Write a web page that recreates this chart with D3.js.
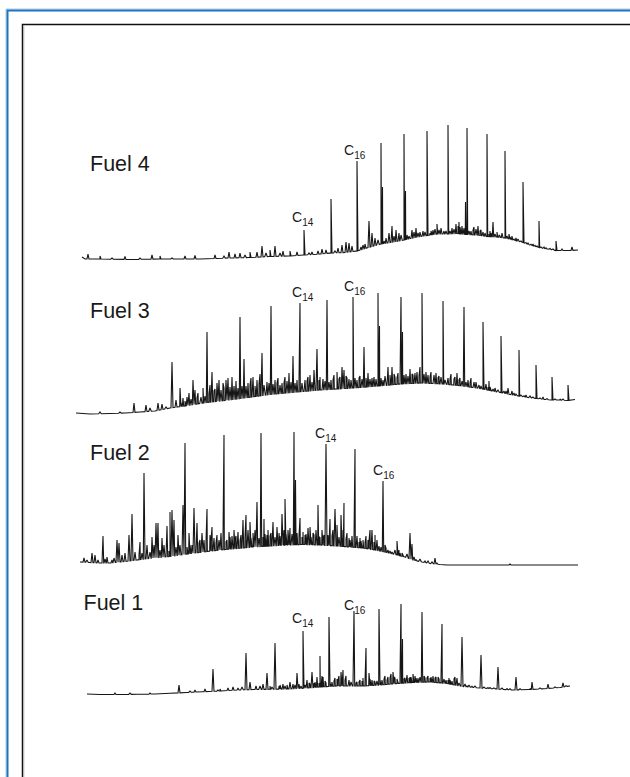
<!DOCTYPE html>
<html><head><meta charset="utf-8">
<script src="https://cdn.jsdelivr.net/npm/d3@7"></script>
<style>body{margin:0;background:#fff}svg{display:block}</style>
</head><body>
<svg id="chart" width="630" height="777"></svg>
<script>
// Retention time (min) and detector signal (arbitrary units)
const fuel4Baseline = [[5.2,5],[5.5,3],[7.0,3],[10.0,2.5],[13.0,3],[17.0,3],[20.0,4],[22.0,4.5],[24.0,5.5],[26.0,6],[27.4,7],[29.0,8],[30.1,9],[31.5,9.5],[32.7,11],[34.0,15],[35.1,18],[36.3,20],[37.4,22],[38.7,25],[39.7,26.5],[40.7,28],[41.8,28],[42.7,28.5],[43.7,27.5],[44.7,27],[45.7,25.5],[46.7,25],[47.5,24],[48.3,22],[49.3,19.5],[50.0,17],[50.9,14.5],[51.7,13],[52.6,11.5],[53.3,11.5],[54.0,11.5],[54.8,12]];
const fuel4Peaks = [[5.8,8],[7.0,6],[9.5,5.5],[12.2,7],[13.0,6],[15.5,6],[16.5,6.5],[18.5,7],[19.9,10],[20.5,8],[21.0,9],[22.0,10],[22.7,10],[23.2,16],[24.0,12],[24.5,16],[25.3,11],[26.0,11],[26.7,10],[27.4,32],[28.2,10],[28.8,11],[29.2,13],[29.6,12],[30.1,63],[30.8,14],[31.2,17],[31.6,20],[31.9,19],[32.2,16],[32.7,101],[33.1,15],[33.5,18],[33.9,41],[34.2,29],[34.5,24],[35.1,119],[35.25,75],[35.6,24],[35.9,29],[36.2,36],[36.6,32],[36.9,29],[37.4,128],[37.55,71],[37.9,26],[38.2,32],[38.6,34],[39.0,30],[39.3,31],[39.7,131],[40.0,29],[40.3,32],[40.7,38],[41.1,34],[41.4,31],[41.8,137],[42.2,34],[42.6,38],[42.9,40],[43.2,36],[43.55,60],[43.7,134],[44.1,31],[44.4,35],[44.8,36],[45.1,32],[45.7,128],[46.0,31],[46.3,40],[46.7,30],[47.2,29],[47.5,111],[47.9,28],[48.2,26],[48.6,24],[49.3,80],[49.8,19],[50.3,18],[50.9,41],[51.4,15],[52.6,21],[53.2,13],[54.2,15]];
const fuel4Minor = [[8.2,4],[11.0,4],[14.2,4],[19.4,6],[21.5,7],[23.6,9],[25.0,9],[27.9,9],[30.5,11],[33.3,17],[34.8,22],[35.4,21],[36.4,26],[37.1,27],[37.7,27],[38.4,30],[38.8,29],[39.5,30],[40.1,31],[40.5,33],[40.9,32],[41.6,31],[42.0,31],[42.4,33],[42.8,36],[43.0,35],[43.4,34],[43.9,31],[44.3,32],[44.6,33],[45.0,31],[45.3,30],[45.5,29],[45.9,28],[46.1,29],[46.5,28],[46.9,27],[47.0,26],[47.7,26],[48.0,25],[48.4,23],[48.8,23],[49.1,21],[49.6,19],[50.1,17],[50.5,16],[50.7,15],[51.1,14],[51.6,14],[52.0,13],[52.3,12]];
const fuel4Labels = [[14,27.4],[16,32.7]];

const fuel3Baseline = [[4.6,3],[6.0,2],[8.0,2.5],[9.5,3],[11.0,4],[12.5,5],[14.0,8],[15.5,10],[17.3,13],[19.0,15],[20.7,17],[22.5,19.5],[24.0,21.5],[25.6,23],[27.3,24.5],[29.0,26],[30.7,27],[32.3,28],[33.6,29],[34.8,30],[36.0,31],[37.0,32],[38.1,32.5],[39.2,33],[40.3,32.5],[41.3,32],[42.3,31],[43.3,30],[44.3,28.5],[45.3,27],[46.2,25],[47.1,23.5],[48.0,21.5],[48.9,20],[49.8,18.5],[50.6,17.5],[51.5,16.5],[52.2,16],[53.0,16],[53.8,15.5],[54.5,16.5]];
const fuel3Peaks = [[10.4,13],[11.6,11],[12.8,13],[13.2,12],[14.2,54],[14.6,16],[15.0,28],[15.3,18],[15.7,19],[15.9,23],[16.3,36],[16.5,26],[16.8,23],[17.3,28],[17.7,84],[18.0,31],[18.2,44],[18.7,33],[18.9,36],[19.3,33],[19.6,36],[19.8,38],[20.2,39],[20.6,35],[21.0,99],[21.4,57],[21.8,33],[22.1,38],[22.3,39],[22.7,36],[23.0,42],[23.2,63],[23.7,34],[24.1,110],[24.5,36],[24.8,38],[25.2,33],[25.5,39],[25.9,43],[26.3,60],[26.7,36],[27.0,113],[27.5,36],[27.8,39],[28.0,41],[28.4,46],[28.7,67],[29.0,39],[29.3,37],[29.7,116],[30.1,36],[30.4,41],[30.7,44],[31.2,49],[31.4,46],[31.7,38],[32.3,119],[32.7,36],[33.0,40],[33.4,69],[33.8,43],[34.2,38],[34.8,123],[34.95,90],[35.3,36],[35.8,49],[36.2,49],[36.5,39],[36.8,43],[37.1,119],[37.25,84],[37.6,42],[38.0,47],[38.3,41],[38.5,43],[39.0,49],[39.2,123],[39.6,44],[40.1,44],[40.6,43],[40.9,40],[41.3,115],[41.8,38],[42.1,42],[42.7,43],[43.0,38],[43.4,109],[43.8,36],[44.1,38],[44.6,34],[45.3,94],[45.6,32],[45.9,35],[46.5,28],[47.1,80],[47.8,28],[48.2,25],[48.9,66],[49.6,21],[50.6,51],[51.3,19],[52.2,39],[53.0,17],[53.8,31]];
const fuel3Minor = [[7.0,4],[9.0,4],[12.0,8],[13.6,9],[15.1,13],[15.5,15],[16.1,17],[16.7,18],[17.1,19],[17.5,20],[17.9,22],[18.4,25],[18.5,27],[19.1,26],[19.4,28],[20.0,29],[20.4,30],[20.8,28],[21.2,30],[21.6,30],[22.0,31],[22.5,30],[22.9,32],[23.4,31],[23.9,33],[24.3,32],[24.7,33],[25.0,31],[25.4,33],[25.7,35],[26.1,34],[26.5,33],[26.9,34],[27.2,33],[27.7,35],[28.2,34],[28.9,36],[29.5,35],[29.9,34],[30.3,36],[30.9,37],[31.0,39],[31.6,40],[31.9,37],[32.1,36],[32.5,38],[32.9,38],[33.2,37],[33.6,38],[34.0,37],[34.4,39],[34.6,37],[35.1,38],[35.5,40],[36.0,41],[36.4,42],[36.7,38],[37.4,41],[37.8,40],[38.2,42],[38.7,44],[38.9,40],[39.4,42],[39.8,41],[40.0,39],[40.4,41],[40.8,38],[41.1,39],[41.5,36],[42.0,37],[42.4,37],[42.5,39],[42.9,36],[43.2,35],[43.6,34],[44.0,33],[44.4,34],[44.9,31],[45.1,30],[45.8,29],[46.0,29],[46.3,27],[46.8,26],[47.4,25],[47.6,25],[48.4,23],[48.6,22],[49.1,21],[49.4,20],[50.0,20],[50.3,19],[51.0,18],[51.7,17],[52.5,17],[53.3,17]];
const fuel3Labels = [[14,27.0],[16,32.3]];

const fuel2Baseline = [[5.0,5],[6.0,4.5],[7.0,4],[8.0,4],[9.0,5],[10.7,7],[12.3,9],[14.0,10.5],[15.7,13],[17.3,15],[19.0,17],[20.7,18.5],[22.3,20],[24.0,21],[25.7,22],[27.3,22.5],[29.0,22],[30.7,21],[32.0,20],[33.3,19],[34.5,17],[35.5,15],[36.7,12],[37.5,10],[38.3,7],[39.2,5],[40.0,3.5],[41.0,2.5],[41.7,2],[45.0,2],[49.0,2],[52.0,2],[54.8,2]];
const fuel2Peaks = [[5.4,9],[6.2,14],[6.5,12],[6.8,7],[7.3,31],[7.7,10],[8.2,7],[8.7,27],[8.9,24],[9.2,12],[9.5,14],[9.9,32],[10.2,53],[10.5,15],[11.0,25],[11.4,94],[11.7,22],[12.2,30],[12.4,22],[12.6,44],[12.8,44],[13.2,29],[13.4,22],[13.7,41],[14.0,55],[14.2,57],[14.4,47],[14.8,32],[15.0,22],[15.3,62],[15.5,124],[15.9,34],[16.2,22],[16.4,59],[16.7,44],[17.0,27],[17.2,34],[17.4,27],[17.7,58],[18.0,32],[18.2,40],[18.4,29],[18.7,32],[18.9,27],[19.1,34],[19.4,132],[19.7,27],[19.9,35],[20.2,31],[20.4,37],[20.6,31],[20.8,35],[21.1,32],[21.3,47],[21.6,52],[21.8,37],[22.0,45],[22.3,34],[22.5,37],[22.7,65],[23.1,134],[23.4,48],[23.7,32],[23.8,37],[24.1,34],[24.3,45],[24.7,40],[24.9,34],[25.2,53],[25.4,37],[25.5,68],[25.8,37],[26.0,39],[26.4,135],[26.55,87],[26.7,34],[27.0,49],[27.3,35],[27.5,32],[27.8,39],[28.0,40],[28.3,34],[28.6,37],[28.8,62],[29.2,37],[29.4,32],[29.6,123],[29.8,32],[30.0,48],[30.3,37],[30.5,58],[30.7,42],[31.1,52],[31.3,37],[31.4,64],[31.7,34],[31.9,29],[32.2,31],[32.5,118],[32.7,31],[33.0,29],[33.3,27],[33.6,31],[33.8,27],[34.0,37],[34.2,37],[34.5,32],[34.7,27],[35.3,86],[35.6,19],[35.8,17],[36.2,15],[36.7,26],[36.9,17],[37.0,14],[37.3,12],[38.0,34],[38.2,23],[38.6,7],[39.5,6],[40.5,9],[40.7,4],[48.0,3]];
const fuel2Minor = [[5.7,7],[7.5,8],[8.4,9],[10.9,12],[11.2,14],[12.0,15],[13.0,17],[13.9,16],[14.6,20],[15.7,20],[16.0,22],[16.9,24],[17.6,25],[18.1,26],[18.6,24],[19.3,28],[19.6,25],[20.0,30],[20.5,28],[21.0,26],[21.5,30],[22.1,29],[22.9,29],[23.3,30],[23.5,33],[24.0,31],[24.5,30],[25.0,31],[25.6,33],[25.9,30],[26.2,33],[26.9,31],[27.2,30],[27.6,33],[28.1,30],[28.4,32],[28.9,31],[29.0,30],[29.3,28],[29.9,29],[30.2,31],[30.9,30],[31.2,29],[31.6,28],[32.0,27],[32.4,28],[32.9,25],[33.1,26],[33.5,24],[33.9,26],[34.4,25],[34.9,21],[35.1,20],[35.5,22],[36.0,16],[36.5,17],[37.2,14],[37.7,13],[38.4,10],[39.0,8],[39.8,6],[40.2,5]];
const fuel2Labels = [[14,29.6],[16,35.3]];

const fuel1Baseline = [[5.7,3],[7.0,2.5],[9.0,2.5],[10.7,2.7],[12.5,3],[14.0,3.7],[15.7,4.5],[17.3,5.3],[19.0,6],[20.7,7],[22.3,7.5],[24.0,7.7],[25.7,8],[27.3,8.7],[29.0,10],[30.7,11],[32.0,11],[33.3,11],[35.0,12],[36.7,13.5],[38.3,14.5],[40.0,15],[41.7,13.5],[43.3,10.5],[45.0,9],[46.7,8],[48.3,7],[50.0,7.5],[51.7,8.5],[53.0,9.5],[54.0,11]];
const fuel1Peaks = [[8.5,4],[12.0,4],[14.9,12],[16.5,7],[17.5,8],[18.3,28],[19.0,8],[19.8,9],[20.3,10],[20.8,9],[21.6,44],[22.0,15],[22.6,11],[23.3,13],[23.7,24],[24.0,11],[24.5,54],[24.9,11],[25.3,13],[25.7,12],[26.0,15],[26.3,13],[26.7,24],[26.9,13],[27.3,66],[27.5,12],[27.7,17],[28.0,13],[28.2,25],[28.4,14],[28.7,20],[29.0,41],[29.2,21],[29.3,20],[29.6,14],[29.9,80],[30.2,15],[30.5,19],[30.7,18],[30.9,21],[31.1,25],[31.3,27],[31.6,21],[31.9,17],[32.4,86],[32.7,15],[33.0,17],[33.3,19],[33.6,49],[33.9,24],[34.2,17],[34.5,15],[34.9,88],[35.2,17],[35.5,21],[35.8,20],[36.1,23],[36.3,25],[36.5,19],[37.1,93],[37.25,58],[37.5,19],[37.7,22],[38.0,20],[38.3,23],[38.5,21],[38.8,19],[39.2,85],[39.5,19],[39.8,21],[40.0,19],[40.3,21],[40.6,20],[40.9,18],[41.2,73],[41.6,17],[41.9,19],[42.2,16],[42.5,20],[42.7,19],[43.2,60],[43.7,11],[44.2,10],[45.1,42],[45.8,9],[46.8,30],[47.7,8],[48.6,20],[50.2,15],[51.8,13],[53.3,14]];
const fuel1Minor = [[10.0,4],[16.0,6],[18.8,7],[21.2,10],[23.0,11],[24.2,10],[25.0,12],[25.5,11],[26.5,12],[27.1,11],[27.9,14],[28.5,15],[28.9,14],[29.5,16],[30.0,14],[30.4,16],[30.8,17],[31.2,19],[31.5,17],[32.1,15],[32.6,14],[32.9,15],[33.2,16],[33.5,15],[34.0,18],[34.4,16],[34.7,16],[35.0,17],[35.4,18],[35.7,17],[36.0,19],[36.4,20],[36.7,18],[37.0,19],[37.4,18],[37.9,19],[38.1,20],[38.6,19],[39.0,20],[39.4,21],[39.7,19],[40.1,20],[40.5,19],[40.8,20],[41.1,19],[41.4,18],[41.8,17],[42.0,17],[42.4,18],[42.9,14],[43.5,13],[43.9,12],[44.5,11],[45.4,10],[46.0,9],[46.4,9],[47.2,9],[48.0,8],[49.0,8],[50.0,8],[51.0,9],[52.5,10],[53.6,11]];
const fuel1Labels = [[14,27.3],[16,32.4]];

const fuelNames = ["Fuel 4","Fuel 3","Fuel 2","Fuel 1"];

// layout
const panels = [
  {name:fuelNames[0], baseline:fuel4Baseline, peaks:fuel4Peaks, minor:fuel4Minor, labels:fuel4Labels, yRef:262, nameX:90, nameY:171, labelOff:[[12,8],[13,6]]},
  {name:fuelNames[1], baseline:fuel3Baseline, peaks:fuel3Peaks, minor:fuel3Minor, labels:fuel3Labels, yRef:416, nameX:90, nameY:318, labelOff:[[8,6],[9,6]]},
  {name:fuelNames[2], baseline:fuel2Baseline, peaks:fuel2Peaks, minor:fuel2Minor, labels:fuel2Labels, yRef:567, nameX:90, nameY:460, labelOff:[[11,6],[10,6]]},
  {name:fuelNames[3], baseline:fuel1Baseline, peaks:fuel1Peaks, minor:fuel1Minor, labels:fuel1Labels, yRef:697, nameX:83.5, nameY:610, labelOff:[[11,8],[10,1]]}
];

const svg = d3.select("#chart");
// frames
svg.append("line").attr("x1",6).attr("x2",640).attr("y1",9).attr("y2",9).attr("stroke","#a9cbea").attr("stroke-width",1);
svg.append("line").attr("x1",6).attr("x2",6).attr("y1",9).attr("y2",790).attr("stroke","#a9cbea").attr("stroke-width",1);
svg.append("rect").attr("x",7.5).attr("y",10.5).attr("width",700).attr("height",800).attr("fill","none").attr("stroke","#1b74bf").attr("stroke-width",2);
svg.append("rect").attr("x",22.5).attr("y",24.5).attr("width",700).attr("height",800).attr("fill","none").attr("stroke","#111").attr("stroke-width",1.5);
svg.append("line").attr("x1",23.8).attr("x2",23.8).attr("y1",25.5).attr("y2",790).attr("stroke","#b5b5b5").attr("stroke-width",1);

const x = d3.scaleLinear().domain([0,56]).range([30,590]);

function buildPoints(baseline, peaks){
  const bt = baseline.map(d=>d[0]), bs = baseline.map(d=>d[1]);
  const baseAt = t => {
    const i = d3.bisectLeft(bt, t);
    if (i<=0) return bs[0];
    if (i>=bt.length) return bs[bs.length-1];
    const f = (t-bt[i-1])/(bt[i]-bt[i-1]);
    return bs[i-1] + f*(bs[i]-bs[i-1]);
  };
  const pts = baseline.map(d=>({t:d[0], s:d[1]}));
  peaks.forEach(([t,a,w])=>{
    const b = baseAt(t);
    pts.push({t:t-w, s:baseAt(t-w)}, {t:t, s:Math.max(a, b+1)}, {t:t+w, s:baseAt(t+w)});
  });
  pts.sort((p,q)=>p.t-q.t);
  return pts;
}

panels.forEach(p=>{
  const y = d3.scaleLinear().domain([0,150]).range([p.yRef, p.yRef-150]);
  const g = svg.append("g");
  const all = p.peaks.map(d=>[d[0],d[1],0.1]).concat(p.minor.map(d=>[d[0],d[1],0.13]));
  const pts = buildPoints(p.baseline, all);
  const line = d3.line().x(d=>x(d.t)).y(d=>y(d.s));
  g.append("path").attr("d", line(pts)).attr("fill","none").attr("stroke","#161616").attr("stroke-width",1.1).attr("stroke-linejoin","miter").attr("stroke-miterlimit",2);
  g.append("text").attr("x",p.nameX).attr("y",p.nameY).attr("font-family","'Liberation Sans', Arial, sans-serif").attr("font-size",21.5).attr("fill","#1a1a1a").text(p.name);
  p.labels.forEach(([cn,t],i)=>{
    const pk = p.peaks.find(d=>Math.abs(d[0]-t)<1e-6);
    const off = p.labelOff[i];
    const tx = g.append("text").attr("x", x(t)-off[0]).attr("y", y(pk[1])-off[1])
      .attr("font-family","'Liberation Sans', Arial, sans-serif").attr("font-size",14).attr("fill","#1a1a1a");
    tx.append("tspan").text("C");
    tx.append("tspan").attr("font-size",10).attr("dy",4).text(cn);
  });
});
</script>
</body></html>
